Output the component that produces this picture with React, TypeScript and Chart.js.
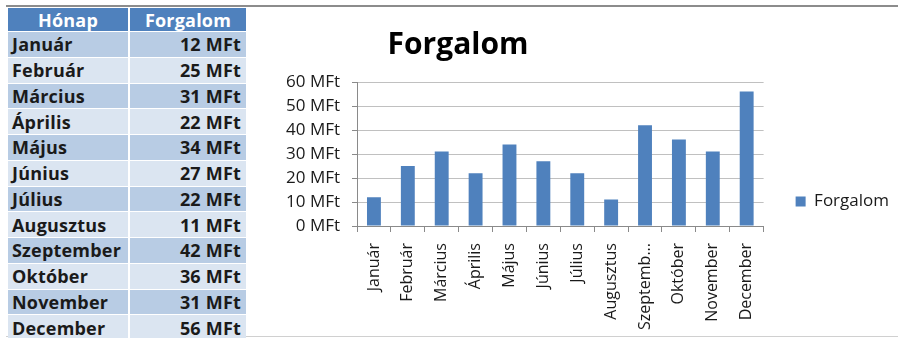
import React, { useEffect, useRef } from "react";
import { Chart, registerables } from "chart.js";

Chart.register(...registerables);

const months = [
  "Január", "Február", "Március", "Április", "Május", "Június",
  "Július", "Augusztus", "Szeptember", "Október", "November", "December",
];
const revenue = [12, 25, 31, 22, 34, 27, 22, 11, 42, 36, 31, 56];
const seriesName = "Forgalom";
const monthHeader = "Hónap";
const unit = "MFt";
const yMax = 60;
const yStep = 10;

const FONT = "'Open Sans', 'Noto Sans', sans-serif";
const BAR = "#4F81BD";

function truncate(label: string): string {
  return label.length > 9 ? label.slice(0, 8) + "..." : label;
}

const legendShift = {
  id: "legendShift",
  afterLayout(chart: any) {
    const l = chart.legend;
    if (!l) return;
    l.left += 22;
    l.right += 22;
    l.top -= 6;
    l.bottom -= 6;
  },
};

function ChartBox() {
  const ref = useRef<HTMLCanvasElement | null>(null);
  useEffect(() => {
    if (!ref.current) return;
    const chart = new Chart(ref.current, {
      type: "bar",
      data: {
        labels: months,
        datasets: [
          {
            label: seriesName,
            data: revenue,
            backgroundColor: BAR,
            borderWidth: 0,
            barPercentage: 0.41,
            categoryPercentage: 1,
          },
        ],
      },
      plugins: [legendShift],
      options: {
        responsive: false,
        animation: false,
        devicePixelRatio: 1,
        layout: { padding: { left: 31, right: 21, top: 0, bottom: 0 } },
        plugins: {
          title: {
            display: true,
            text: seriesName,
            color: "#000",
            font: { family: FONT, size: 30, weight: "bold" },
            padding: { top: 21, bottom: 19 },
          },
          legend: {
            display: true,
            position: "right",
            align: "end",
            fullSize: false,
            labels: {
              color: "#1a1a1a",
              font: { family: FONT, size: 17 },
              boxWidth: 10,
              boxHeight: 10,
              padding: 10,
            },
          },
          tooltip: { enabled: false },
        },
        scales: {
          x: {
            grid: {
              drawOnChartArea: false,
              drawTicks: true,
              tickLength: 6,
              color: "#8a8a8a",
              offset: true,
            },
            border: { display: true, color: "#8a8a8a", width: 1 },
            ticks: {
              color: "#1a1a1a",
              font: { family: FONT, size: 16 },
              minRotation: 90,
              maxRotation: 90,
              autoSkip: false,
              padding: 11,
              callback: (_v: any, i: number) => truncate(months[i]),
            },
            afterFit: (s: any) => {
              s.height = 110;
            },
          },
          y: {
            min: 0,
            max: yMax,
            grid: {
              color: "#c0c0c0",
              drawTicks: true,
              tickLength: 5,
              tickColor: "#8a8a8a",
            },
            border: { display: true, color: "#8a8a8a", width: 1 },
            ticks: {
              stepSize: yStep,
              color: "#1a1a1a",
              font: { family: FONT, size: 17 },
              padding: 12,
              callback: (v: any) => `${v} ${unit}`,
            },
            afterFit: (s: any) => {
              s.width = 318;
            },
          },
        },
      },
    });
    return () => chart.destroy();
  }, []);
  return (
    <canvas
      ref={ref}
      width={890}
      height={330}
      style={{ position: "absolute", left: 8, top: 6, width: 890, height: 330 }}
    />
  );
}

function DataTable() {
  const cell = (dark: boolean): React.CSSProperties => ({
    background: dark ? "#B8CCE4" : "#DBE5F1",
    color: "#1a1a1a",
    display: "flex",
    alignItems: "center",
    overflow: "hidden",
    whiteSpace: "nowrap",
  });
  const head: React.CSSProperties = {
    background: BAR,
    color: "#fff",
    display: "flex",
    alignItems: "center",
    justifyContent: "center",
  };
  return (
    <div
      style={{
        position: "absolute",
        left: 8,
        top: 8,
        width: 238,
        display: "grid",
        gridTemplateColumns: "120px 116px",
        gridTemplateRows: "23px repeat(12, 24.75px)",
        columnGap: 2,
        rowGap: 1,
        background: "#fff",
        fontFamily: FONT,
        fontWeight: 700,
        fontSize: 18,
        letterSpacing: 0.2,
        zIndex: 2,
        paddingBottom: 1,
      }}
    >
      <div style={head}>{monthHeader}</div>
      <div style={head}>{seriesName}</div>
      {months.map((m, i) => (
        <React.Fragment key={m}>
          <div style={{ ...cell(i % 2 === 0), paddingLeft: 4 }}>{m}</div>
          <div style={{ ...cell(i % 2 === 0), justifyContent: "flex-end", paddingRight: 5 }}>
            {`${revenue[i]} ${unit}`}
          </div>
        </React.Fragment>
      ))}
    </div>
  );
}

export default function App() {
  return (
    <div style={{ position: "fixed", left: 0, top: 0, width: 898, height: 338, background: "#fff", overflow: "hidden" }}>
      <div style={{ position: "absolute", left: 6, top: 5, width: 892, height: 0, borderTop: "2px solid #8c8c8c" }} />
      <div style={{ position: "absolute", left: 6, top: 336, width: 892, height: 0, borderTop: "1px solid #d0d0d0" }} />
      <ChartBox />
      <DataTable />
    </div>
  );
}
